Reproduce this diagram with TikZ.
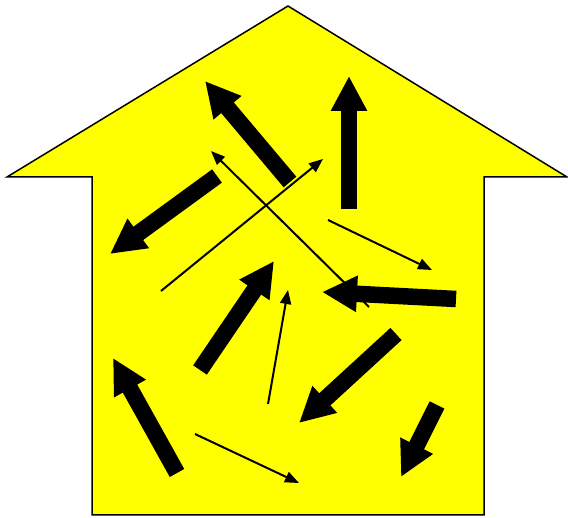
\documentclass[tikz,border=0pt]{standalone}
\usepackage{tikz}
\usetikzlibrary{arrows.meta}

\tikzset{
  bigarrow/.style={line width=16.5pt, -{Triangle[length=35pt,width=34pt]}},
  thinarrow/.style={line width=2pt, -{Triangle[length=14pt,width=11pt]}}
}

\begin{document}
\begin{tikzpicture}[x=1pt,y=-1pt]
    \useasboundingbox (0,0) rectangle (568,518);

    % Будинок: основа і дах
    \coordinate (A) at (92,515);
    \coordinate (B) at (484,515);
    \coordinate (L) at (92,177);
    \coordinate (R) at (484,177);
    \coordinate (EL) at (7,177);
    \coordinate (ER) at (567,177);
    \coordinate (T) at (288,6);

    \draw[line width=1.5pt, fill={rgb,255:red,255;green,255;blue,0}, line join=miter]
        (A) -- (L) -- (EL) -- (T) -- (ER) -- (R) -- (B) -- cycle;

    % Тонкі стрілки
    \draw[thinarrow] (161,291) -- (323,159);
    \draw[thinarrow] (369,307) -- (211,151);
    \draw[thinarrow] (328,220) -- (432,270);
    \draw[thinarrow] (268,404) -- (288,290);
    \draw[thinarrow] (195,434) -- (299,483);

    % Товсті стрілки
    \draw[bigarrow] (290,182) -- (205,81);
    \draw[bigarrow] (349,209) -- (349,76);
    \draw[bigarrow] (217,176) -- (110,254);
    \draw[bigarrow] (200,370) -- (274,261);
    \draw[bigarrow] (456,299) -- (322,292);
    \draw[bigarrow] (396,334) -- (299,423);
    \draw[bigarrow] (177,473) -- (113,358);
    \draw[bigarrow] (437,405) -- (401,477);
\end{tikzpicture}
\end{document}
